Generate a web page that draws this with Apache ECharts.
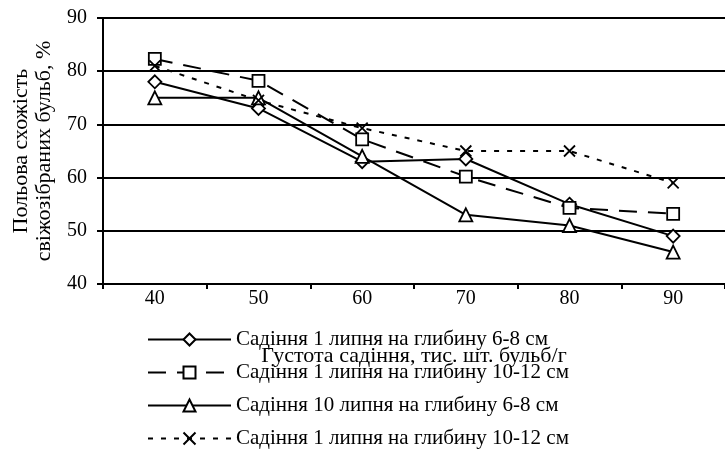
<!DOCTYPE html>
<html><head><meta charset="utf-8">
<script src="https://cdn.jsdelivr.net/npm/echarts@6/dist/echarts.min.js"></script>
<style>html,body{margin:0;padding:0;background:#fff}#c{width:725px;height:451px}</style>
</head><body><div id="c"></div>
<script>
var categories = ['40','50','60','70','80','90'];
var seriesNames = [
  'Садіння 1 липня на глибину 6-8 см',
  'Садіння 1 липня на глибину 10-12 см',
  'Садіння 10 липня на глибину 6-8 см',
  'Садіння 1 липня на глибину 10-12 см '
];
var s1 = [78, 73, 63, 63.5, 55, 49];
var s2 = [82.3, 78.2, 67.2, 60.2, 54.3, 53.2];
var s3 = [75, 75, 64, 53, 51, 46];
var s4 = [81, 74.5, 69.3, 65, 65, 59];
var xName = 'Густота садіння, тис. шт. бульб/г';
var yName = 'Польова схожість\nсвіжозібраних бульб, %';

var font = 'Liberation Serif';
var cross = 'path://M0,0L10,10M10,0L0,10';
function mk(name, data, symbol, dash, size) {
  return {
    name: name, type: 'line', data: data, symbol: symbol, symbolSize: size,
    showAllSymbol: true,
    lineStyle: {color: '#000', width: 2, type: dash},
    itemStyle: {color: '#fff', borderColor: '#000', borderWidth: 1.8},
    emphasis: {disabled: true}, animation: false
  };
}
var chart = echarts.init(document.getElementById('c'));
chart.setOption({
  animation: false,
  grid: {left: 103, top: 18, right: -6, bottom: 167},
  legend: {
    orient: 'vertical', left: 147, top: 329, height: 122, padding: 0,
    itemWidth: 83, itemHeight: 15, itemGap: 12,
    textStyle: {fontFamily: font, fontSize: 21, color: '#000', lineHeight: 21},
    data: seriesNames
  },
  xAxis: {
    type: 'category', data: categories, boundaryGap: true,
    name: xName, nameLocation: 'middle', nameGap: 61,
    nameTextStyle: {fontFamily: font, fontSize: 22, color: '#000'},
    axisLine: {lineStyle: {color: '#000', width: 2}},
    axisTick: {show: true, alignWithLabel: false, length: 5, lineStyle: {color: '#000', width: 2}},
    axisLabel: {fontFamily: font, fontSize: 20, color: '#000', margin: 5}
  },
  yAxis: {
    type: 'value', min: 40, max: 90, interval: 10,
    name: yName, nameLocation: 'middle', nameGap: 47,
    nameTextStyle: {fontFamily: font, fontSize: 22, color: '#000', lineHeight: 23},
    axisLine: {show: true, lineStyle: {color: '#000', width: 2}},
    axisTick: {show: true, length: 6, lineStyle: {color: '#000', width: 2}},
    axisLabel: {fontFamily: font, fontSize: 20, color: '#000', margin: 16},
    splitLine: {lineStyle: {color: '#000', width: 2}}
  },
  series: [
    mk(seriesNames[0], s1, 'diamond', 'solid', 13),
    mk(seriesNames[1], s2, 'rect', [18, 11], 12),
    mk(seriesNames[2], s3, 'triangle', 'solid', 13),
    mk(seriesNames[3], s4, cross, [5, 8], 11)
  ]
});
</script></body></html>
